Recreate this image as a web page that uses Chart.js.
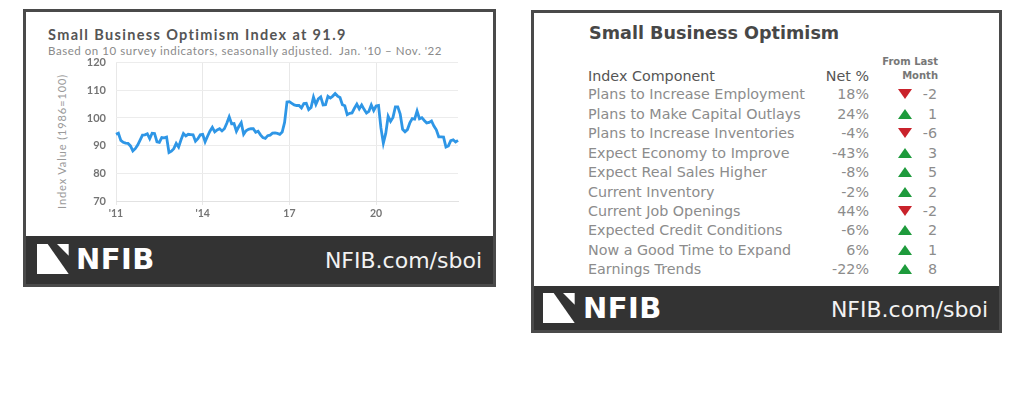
<!DOCTYPE html>
<html>
<head>
<meta charset="utf-8">
<script src="https://cdn.jsdelivr.net/npm/chart.js@4.4.0/dist/chart.umd.min.js"></script>
<style>
    body { margin: 0; width: 1024px; height: 396px; background: #fff; position: relative; overflow: hidden; }
    .frame { position: absolute; border: 3px solid #4a4a4a; box-sizing: border-box; background: #fff; }
    .band { position: absolute; background: #333; }
    .txt { position: absolute; white-space: nowrap; }
    .lato { font-family: Lato, sans-serif; }
    .dv { font-family: 'DejaVu Sans', sans-serif; }
    .url { font-family: 'DejaVu Sans', sans-serif; font-size: 22px; color: #f2f2f2; height: 30px; line-height: 30px; text-align: right; }
    .logo { position: absolute; }
    .logo span { position: absolute; font-family: 'DejaVu Sans', sans-serif; font-weight: bold; font-size: 29px; color: #fff; line-height: 32px; letter-spacing: 0.5px; }
    .tri-up { position: absolute; width: 0; height: 0; border-left: 7px solid transparent; border-right: 7px solid transparent; border-bottom: 10px solid #1e9b3c; }
    .tri-down { position: absolute; width: 0; height: 0; border-left: 7px solid transparent; border-right: 7px solid transparent; border-top: 10px solid #c9222b; }
</style>
</head>
<body>

<!-- left panel: index line chart -->
<div class="frame" style="left:23px; top:9px; width:473px; height:278px;"></div>
<div class="band" style="left:26px; top:236px; width:467px; height:48px;"></div>

<div class="txt lato" style="left:48px; top:26px; height:18px; line-height:18px; font-size:14.5px; font-weight:bold; color:#555; letter-spacing:1.35px;">Small Business Optimism Index at 91.9</div>
<div class="txt lato" style="left:48px; top:43px; height:16px; line-height:16px; font-size:11.5px; color:#8a8a8a; letter-spacing:0.55px;">Based on 10 survey indicators, seasonally adjusted.&nbsp; Jan. '10 – Nov. '22</div>
<div class="txt lato" style="left:2px; top:142px; width:120px; height:14px; line-height:14px; font-size:11px; color:#9a9a9a; text-align:center; letter-spacing:0.9px; transform:rotate(-90deg); transform-origin:60px 7px;">Index Value (1986=100)</div>

<div style="position:absolute; left:50px; top:46px; width:420px; height:179px;">
    <canvas id="sboiChart"></canvas>
</div>

<div class="logo" style="left:37px; top:244px;">
    <svg width="32" height="30" style="position:absolute; left:0; top:0;">
        <polygon points="0,0 10.7,0 31.7,30 0,30" fill="#fff"/>
        <polygon points="20,0 31.7,0 31.7,11.7" fill="#fff"/>
    </svg>
    <span style="left:39px; top:-1px;">NFIB</span>
</div>
<div class="txt url" style="left:282px; top:246px; width:200px;">NFIB.com/sboi</div>

<!-- right panel: component table -->
<div class="frame" style="left:531px; top:10px; width:471px; height:323px;"></div>
<div class="band" style="left:534px; top:286px; width:465px; height:44px;"></div>

<div class="txt dv" style="left:589px; top:21px; height:24px; line-height:24px; font-size:17.6px; font-weight:bold; color:#474747;">Small Business Optimism</div>
<div class="txt dv" style="left:860px; top:55px; width:78px; height:14px; line-height:14px; font-size:10px; font-weight:bold; color:#777; text-align:right;">From Last</div>
<div class="txt dv" style="left:860px; top:69px; width:78px; height:14px; line-height:14px; font-size:10px; font-weight:bold; color:#777; text-align:right;">Month</div>
<div class="txt dv" style="left:588px; top:66px; height:20px; line-height:20px; font-size:14.3px; color:#555;">Index Component</div>
<div class="txt dv" style="left:800px; top:66px; width:69px; height:20px; line-height:20px; font-size:14.3px; color:#555; text-align:right;">Net %</div>
<div id="componentRows"></div>

<div class="logo" style="left:543px; top:293px;">
    <svg width="32" height="30" style="position:absolute; left:0; top:0;">
        <polygon points="0,0 10.7,0 31.7,30 0,30" fill="#fff"/>
        <polygon points="20,0 31.7,0 31.7,11.7" fill="#fff"/>
    </svg>
    <span style="left:40px; top:-1px;">NFIB</span>
</div>
<div class="txt url" style="left:788px; top:295px; width:200px;">NFIB.com/sboi</div>

<script>
// Monthly index values, Jan 2011 - Nov 2022 (1986=100)
const sboi2011 = [94.1, 94.5, 91.9, 91.2, 90.9, 90.8, 89.9, 88.1, 88.9, 90.2, 92.0, 93.8];
const sboi2012 = [93.9, 94.3, 92.5, 94.5, 94.4, 91.4, 91.2, 92.9, 92.8, 93.1, 87.5, 88.0];
const sboi2013 = [88.9, 90.8, 89.5, 92.1, 94.4, 93.5, 94.1, 94.0, 93.9, 91.6, 92.5, 93.9];
const sboi2014 = [94.1, 91.4, 93.4, 95.2, 96.6, 95.0, 95.7, 96.1, 95.3, 96.1, 98.1, 100.4];
const sboi2015 = [97.9, 98.0, 95.2, 96.9, 98.3, 94.1, 95.4, 95.9, 96.1, 96.1, 94.8, 95.2];
const sboi2016 = [93.9, 92.9, 92.6, 93.6, 93.8, 94.5, 94.6, 94.4, 94.1, 94.9, 98.4, 105.8];
const sboi2017 = [105.9, 105.3, 104.7, 104.5, 104.5, 103.6, 105.2, 105.3, 103.0, 103.8, 107.5, 104.9];
const sboi2018 = [106.9, 107.6, 104.7, 104.8, 107.8, 107.2, 107.9, 108.8, 107.9, 107.4, 104.8, 104.4];
const sboi2019 = [101.2, 101.7, 101.8, 103.5, 105.0, 103.3, 104.7, 103.1, 101.8, 102.4, 104.7, 102.7];
const sboi2020 = [104.3, 104.5, 96.4, 90.9, 94.4, 100.6, 98.8, 100.2, 104.0, 104.0, 101.4, 95.9];
const sboi2021 = [95.0, 95.8, 98.2, 99.8, 99.6, 102.5, 99.7, 100.1, 99.1, 98.2, 98.4, 98.9];
const sboi2022 = [97.1, 95.7, 93.2, 93.2, 93.1, 89.5, 89.9, 91.8, 92.1, 91.3, 91.9];

const years = [2011, 2012, 2013, 2014, 2015, 2016, 2017, 2018, 2019, 2020, 2021, 2022];
const yearlyValues = [sboi2011, sboi2012, sboi2013, sboi2014, sboi2015, sboi2016,
    sboi2017, sboi2018, sboi2019, sboi2020, sboi2021, sboi2022];
const monthNames = ['Jan', 'Feb', 'Mar', 'Apr', 'May', 'Jun', 'Jul', 'Aug', 'Sep', 'Oct', 'Nov', 'Dec'];

// x axis tick labels (January of these years)
const tickYears = [2011, 2014, 2017, 2020];
const tickLabels = ["'11", "'14", '17', '20'];

// y axis
const yTicks = [70, 80, 90, 100, 110, 120];

// Index component table
const components = [
    'Plans to Increase Employment',
    'Plans to Make Capital Outlays',
    'Plans to Increase Inventories',
    'Expect Economy to Improve',
    'Expect Real Sales Higher',
    'Current Inventory',
    'Current Job Openings',
    'Expected Credit Conditions',
    'Now a Good Time to Expand',
    'Earnings Trends'
];
const netPercent = [18, 24, -4, -43, -8, -2, 44, -6, 6, -22];
const changeFromLastMonth = [-2, 1, -6, 3, 5, 2, -2, 2, 1, 8];

document.addEventListener('DOMContentLoaded', () => {
    drawIndexChart();
    drawComponentTable();
});

// Build the line chart
function drawIndexChart() {
    const labels = [];
    const values = [];
    const labelFor = {};

    years.forEach((year, i) => {
        yearlyValues[i].forEach((v, m) => {
            if (m === 0 && tickYears.includes(year)) {
                labelFor[labels.length] = tickLabels[tickYears.indexOf(year)];
            }
            labels.push(monthNames[m] + ' ' + year);
            values.push(v);
        });
    });

    const gridColor = (ctx) => (labelFor[ctx.index] !== undefined ? '#e8e8e8' : 'rgba(0,0,0,0)');

    new Chart(document.getElementById('sboiChart'), {
        type: 'line',
        data: {
            labels: labels,
            datasets: [{
                label: 'Small Business Optimism Index',
                data: values,
                borderColor: '#2e96e6',
                borderWidth: 2.8,
                pointRadius: 0,
                tension: 0,
                fill: false
            }]
        },
        options: {
            responsive: true,
            maintainAspectRatio: false,
            animation: false,
            layout: { padding: { top: 0, right: 12, left: 0, bottom: 0 } },
            plugins: {
                legend: { display: false },
                tooltip: { enabled: false }
            },
            scales: {
                x: {
                    type: 'category',
                    afterFit: (scale) => { scale.height = 24; },
                    grid: {
                        color: gridColor,
                        drawTicks: true,
                        tickLength: 4,
                        lineWidth: 1
                    },
                    border: { display: true, color: '#e2e2e2' },
                    ticks: {
                        autoSkip: false,
                        maxRotation: 0,
                        padding: 2,
                        color: '#747474',
                        font: { family: 'Lato', size: 10.5, weight: 'bold' },
                        callback: function (value, index) {
                            return labelFor[index] !== undefined ? labelFor[index] : '';
                        }
                    }
                },
                y: {
                    min: yTicks[0],
                    max: yTicks[yTicks.length - 1],
                    afterFit: (scale) => { scale.width = 66; },
                    grid: { color: '#ececec', drawTicks: false },
                    border: { display: false },
                    ticks: {
                        stepSize: 10,
                        padding: 10,
                        color: '#747474',
                        font: { family: 'Lato', size: 11, weight: 'bold' }
                    }
                }
            }
        }
    });
}

// Build the component rows
function drawComponentTable() {
    const container = document.getElementById('componentRows');
    const rowTop = 94.3;
    const rowStep = 19.44;

    components.forEach((name, i) => {
        const cy = rowTop + i * rowStep;
        const top = (cy - 10).toFixed(1);
        const change = changeFromLastMonth[i];
        const triClass = change < 0 ? 'tri-down' : 'tri-up';

        container.insertAdjacentHTML('beforeend', `
            <div class="txt dv" style="left:588px; top:${top}px; height:20px; line-height:20px; font-size:14.3px; color:#8c8c8c;">${name}</div>
            <div class="txt dv" style="left:800px; top:${top}px; width:69px; height:20px; line-height:20px; font-size:14.3px; color:#8c8c8c; text-align:right;">${netPercent[i]}%</div>
            <div class="${triClass}" style="left:898px; top:${(cy - 5).toFixed(1)}px;"></div>
            <div class="txt dv" style="left:908px; top:${top}px; width:29px; height:20px; line-height:20px; font-size:14.3px; color:#8c8c8c; text-align:right;">${change}</div>
        `);
    });
}
</script>
</body>
</html>
